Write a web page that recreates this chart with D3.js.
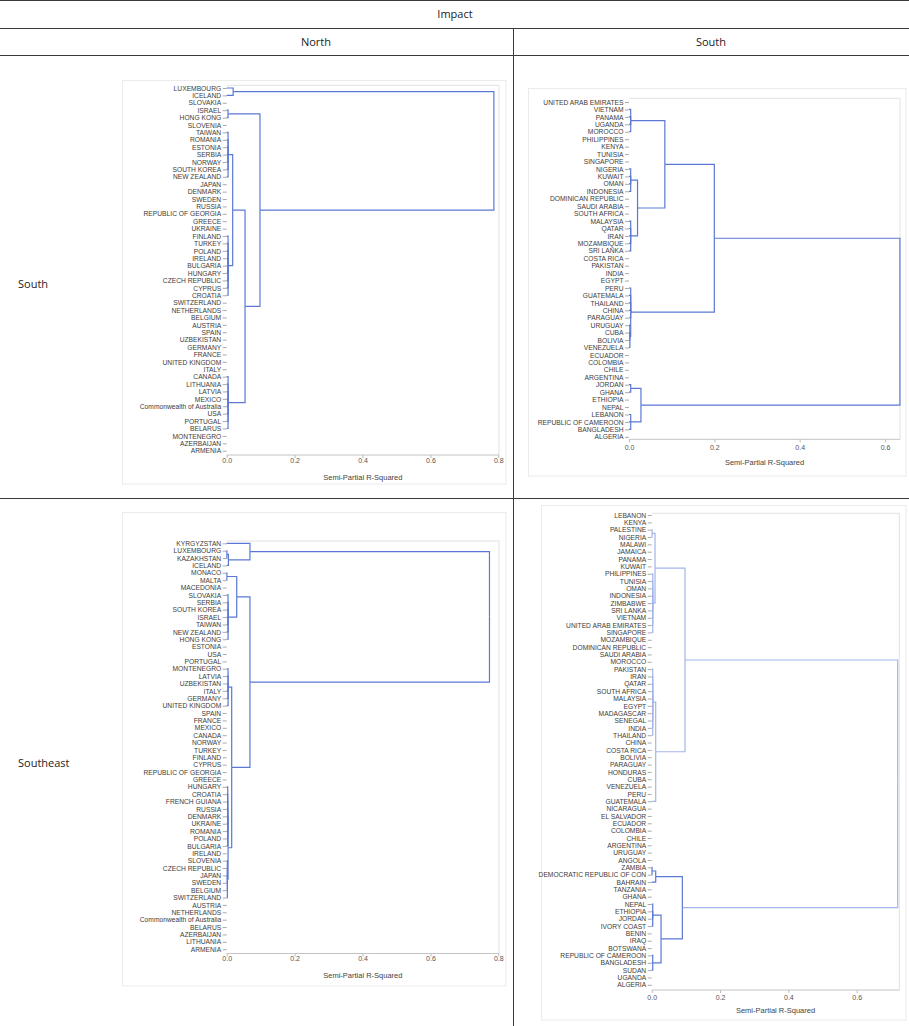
<!DOCTYPE html>
<html>
<head>
<meta charset="utf-8">
<script src="https://cdn.jsdelivr.net/npm/d3@7/dist/d3.min.js"></script>
<style>
  body { margin: 0; background: #fff; }
  svg { display: block; }
</style>
</head>
<body>
<svg id="chart" width="909" height="1026"></svg>
<script>
// ---------------- data ----------------
const TABLE_TITLE = "Impact";
const COL_HEADS = ["North", "South"];
const ROW_HEADS = ["South", "Southeast"];
const AXIS_TITLE = "Semi-Partial R-Squared";

const ticksNorth = [0, 0.2, 0.4, 0.6, 0.8];
const ticksSouth = [0, 0.2, 0.4, 0.6];

// North / South
const nsLeaves = ["LUXEMBOURG", "ICELAND", "SLOVAKIA", "ISRAEL", "HONG KONG", "SLOVENIA", "TAIWAN",
  "ROMANIA", "ESTONIA", "SERBIA", "NORWAY", "SOUTH KOREA", "NEW ZEALAND", "JAPAN", "DENMARK",
  "SWEDEN", "RUSSIA", "REPUBLIC OF GEORGIA", "GREECE", "UKRAINE", "FINLAND", "TURKEY", "POLAND",
  "IRELAND", "BULGARIA", "HUNGARY", "CZECH REPUBLIC", "CYPRUS", "CROATIA", "SWITZERLAND",
  "NETHERLANDS", "BELGIUM", "AUSTRIA", "SPAIN", "UZBEKISTAN", "GERMANY", "FRANCE",
  "UNITED KINGDOM", "ITALY", "CANADA", "LITHUANIA", "LATVIA", "MEXICO",
  "Commonwealth of Australia", "USA", "PORTUGAL", "BELARUS", "MONTENEGRO", "AZERBAIJAN", "ARMENIA"];
// node = {h, c:[children]} or {h, span:[firstLeaf, lastLeaf]}
const nsTree = {h: 0.787, c: [
  {h: 0.019, c: ["LUXEMBOURG", "ICELAND"]},
  {h: 0.098, c: [
    {h: 0.004, c: ["ISRAEL", "HONG KONG"]},
    {h: 0.054, c: [
      {h: 0.0176, c: [
        {h: 0.004, span: ["TAIWAN", "NEW ZEALAND"]},
        {h: 0.004, span: ["FINLAND", "CROATIA"]}
      ]},
      {h: 0.004, span: ["CANADA", "BELARUS"]}
    ]}
  ]}
]};

// South / South
const ssLeaves = ["UNITED ARAB EMIRATES", "VIETNAM", "PANAMA", "UGANDA", "MOROCCO", "PHILIPPINES",
  "KENYA", "TUNISIA", "SINGAPORE", "NIGERIA", "KUWAIT", "OMAN", "INDONESIA", "DOMINICAN REPUBLIC",
  "SAUDI ARABIA", "SOUTH AFRICA", "MALAYSIA", "QATAR", "IRAN", "MOZAMBIQUE", "SRI LANKA",
  "COSTA RICA", "PAKISTAN", "INDIA", "EGYPT", "PERU", "GUATEMALA", "THAILAND", "CHINA", "PARAGUAY",
  "URUGUAY", "CUBA", "BOLIVIA", "VENEZUELA", "ECUADOR", "COLOMBIA", "CHILE", "ARGENTINA", "JORDAN",
  "GHANA", "ETHIOPIA", "NEPAL", "LEBANON", "REPUBLIC OF CAMEROON", "BANGLADESH", "ALGERIA"];
const ssTree = {h: 0.635, c: [
  {h: 0.2, c: [
    {h: 0.084, c: [
      {h: 0.004, span: ["VIETNAM", "MOROCCO"]},
      {h: 0.020, c: [
        {h: 0.004, span: ["NIGERIA", "INDONESIA"]},
        {h: 0.004, span: ["MALAYSIA", "SRI LANKA"]}
      ]}
    ]},
    {h: 0.004, c: ["PERU", "GUATEMALA", "THAILAND", "CHINA", "PARAGUAY",
      {h: 0.002, span: ["URUGUAY", "VENEZUELA"]}]}
  ]},
  {h: 0.028, c: [
    {h: 0.004, c: ["JORDAN", "GHANA"]},
    {h: 0.004, span: ["LEBANON", "BANGLADESH"]}
  ]}
]};

// North / Southeast
const nseLeaves = ["KYRGYZSTAN", "LUXEMBOURG", "KAZAKHSTAN", "ICELAND", "MONACO", "MALTA",
  "MACEDONIA", "SLOVAKIA", "SERBIA", "SOUTH KOREA", "ISRAEL", "TAIWAN", "NEW ZEALAND", "HONG KONG",
  "ESTONIA", "USA", "PORTUGAL", "MONTENEGRO", "LATVIA", "UZBEKISTAN", "ITALY", "GERMANY",
  "UNITED KINGDOM", "SPAIN", "FRANCE", "MEXICO", "CANADA", "NORWAY", "TURKEY", "FINLAND", "CYPRUS",
  "REPUBLIC OF GEORGIA", "GREECE", "HUNGARY", "CROATIA", "FRENCH GUIANA", "RUSSIA", "DENMARK",
  "UKRAINE", "ROMANIA", "POLAND", "BULGARIA", "IRELAND", "SLOVENIA", "CZECH REPUBLIC", "JAPAN",
  "SWEDEN", "BELGIUM", "SWITZERLAND", "AUSTRIA", "NETHERLANDS", "Commonwealth of Australia",
  "BELARUS", "AZERBAIJAN", "LITHUANIA", "ARMENIA"];
const nseTree = {h: 0.774, c: [
  {h: 0.0685, c: ["KYRGYZSTAN",
    {h: 0.005, c: [{h: 0.0005, c: ["LUXEMBOURG", "KAZAKHSTAN"]}, "ICELAND"]}]},
  {h: 0.0685, c: [
    {h: 0.0295, c: [
      {h: 0.0005, c: ["MONACO", "MALTA"]},
      {h: 0.004, span: ["SLOVAKIA", "HONG KONG"]}
    ]},
    {h: 0.0147, c: [
      {h: 0.004, span: ["MONTENEGRO", "UNITED KINGDOM"]},
      {h: 0.004, c: [
        {h: 0.003, span: ["HUNGARY", "BULGARIA"]},
        {h: 0.002, span: ["SLOVENIA", "SWITZERLAND"]}
      ]}
    ]}
  ]}
]};

// South / Southeast
const sseLeaves = ["LEBANON", "KENYA", "PALESTINE", "NIGERIA", "MALAWI", "JAMAICA", "PANAMA",
  "KUWAIT", "PHILIPPINES", "TUNISIA", "OMAN", "INDONESIA", "ZIMBABWE", "SRI LANKA", "VIETNAM",
  "UNITED ARAB EMIRATES", "SINGAPORE", "MOZAMBIQUE", "DOMINICAN REPUBLIC", "SAUDI ARABIA", "MOROCCO",
  "PAKISTAN", "IRAN", "QATAR", "SOUTH AFRICA", "MALAYSIA", "EGYPT", "MADAGASCAR", "SENEGAL", "INDIA",
  "THAILAND", "CHINA", "COSTA RICA", "BOLIVIA", "PARAGUAY", "HONDURAS", "CUBA", "VENEZUELA", "PERU",
  "GUATEMALA", "NICARAGUA", "EL SALVADOR", "ECUADOR", "COLOMBIA", "CHILE", "ARGENTINA", "URUGUAY",
  "ANGOLA", "ZAMBIA", "DEMOCRATIC REPUBLIC OF CON", "BAHRAIN", "TANZANIA", "GHANA", "NEPAL",
  "ETHIOPIA", "JORDAN", "IVORY COAST", "BENIN", "IRAQ", "BOTSWANA", "REPUBLIC OF CAMEROON",
  "BANGLADESH", "SUDAN", "UGANDA", "ALGERIA"];
const sseTree = {h: 0.72, c: [
  {h: 0.0975, c: [
    {h: 0.0097, c: [
      {h: 0.001, c: ["PALESTINE", "NIGERIA"]},
      {h: 0.003, span: ["PHILIPPINES", "SINGAPORE"]}
    ]},
    {h: 0.0117, c: [{h: 0.003, span: ["PAKISTAN", "THAILAND"]}, "GUATEMALA"]}
  ]},
  {h: 0.0897, c: [
    {h: 0.0117, c: [{h: 0.001, c: ["ZAMBIA", "DEMOCRATIC REPUBLIC OF CON"]}, "BAHRAIN"]},
    {h: 0.0273, c: [
      {h: 0.003, span: ["NEPAL", "IVORY COAST"]},
      {h: 0.003, span: ["REPUBLIC OF CAMEROON", "SUDAN"]}
    ]}
  ]}
]};

// ---------------- layout ----------------
const LINE_BLUE = "#5b79d4";
const LIGHT_BLUE = "#a2b4ea";

const panels = [
  {leaves: nsLeaves, tree: nsTree, ticks: ticksNorth,
   frame: [122.5, 80.5, 506, 484], x0: 226.7, x1: 498.3, right: 499,
   top: 85.3, bottom: 455, first: 88, last: 450.7, tickY: 465.5, titleY: 480},
  {leaves: ssLeaves, tree: ssTree, ticks: ticksSouth,
   frame: [528.5, 88.5, 906, 476], x0: 629, x1: 885, right: 900,
   top: 98.3, bottom: 439.3, first: 102, last: 436.8, tickY: 452.5, titleY: 464.5},
  {leaves: nseLeaves, tree: nseTree, ticks: ticksNorth,
   frame: [122.5, 512.5, 506, 986], x0: 226.7, x1: 498.3, right: 499,
   top: 541, bottom: 953.5, first: 543.3, last: 949.2, tickY: 963.5, titleY: 978},
  {leaves: sseLeaves, tree: sseTree, ticks: ticksSouth, lightTop: true,
   frame: [541.5, 505.5, 906, 1020], x0: 651.7, x1: 856.7, right: 899.3,
   top: 513.3, bottom: 990, first: 515, last: 984.8, tickY: 1002.5, titleY: 1013}
];

const svg = d3.select("#chart");

// --------------- table grid ---------------
const grid = svg.append("g").attr("stroke", "#3a3a3a").attr("stroke-width", 1);
[0.5, 28.5, 55.5, 498.5].forEach(yy =>
  grid.append("line").attr("x1", 0).attr("x2", 909).attr("y1", yy).attr("y2", yy));
grid.append("line").attr("x1", 513.5).attr("x2", 513.5).attr("y1", 28.5).attr("y2", 1026);

const headFont = "'Open Sans', 'Liberation Sans', sans-serif";
svg.append("text").attr("x", 455).attr("y", 18).attr("text-anchor", "middle")
  .attr("font-family", headFont).attr("font-size", 11).attr("fill", "#222").text(TABLE_TITLE);
const colCenters = [316, 711];
COL_HEADS.forEach((t, i) =>
  svg.append("text").attr("x", colCenters[i]).attr("y", 46).attr("text-anchor", "middle")
    .attr("font-family", headFont).attr("font-size", 11).attr("fill", "#222").text(t));
const rowCenters = [284, 763];
ROW_HEADS.forEach((t, i) =>
  svg.append("text").attr("x", 18).attr("y", rowCenters[i] + 4)
    .attr("font-family", headFont).attr("font-size", 11).attr("fill", "#222").text(t));

// --------------- dendrograms ---------------
function expand(node, leaves) {
  if (typeof node === "string") return {name: node, h: 0};
  let kids = node.c;
  if (node.span) {
    const i0 = leaves.indexOf(node.span[0]);
    const i1 = leaves.indexOf(node.span[1]);
    kids = leaves.slice(i0, i1 + 1);
  }
  return {h: node.h, children: kids.map(k => expand(k, leaves))};
}

function drawPanel(p) {
  const g = svg.append("g");
  const font = "'Liberation Sans', Arial, sans-serif";

  // graph border
  g.append("rect")
    .attr("x", p.frame[0]).attr("y", p.frame[1])
    .attr("width", p.frame[2] - p.frame[0]).attr("height", p.frame[3] - p.frame[1])
    .attr("fill", "none").attr("stroke", "#ebebeb");

  const x = d3.scaleLinear().domain([0, p.ticks[p.ticks.length - 1]]).range([p.x0, p.x1]);
  const y = d3.scalePoint().domain(p.leaves).range([p.first, p.last]);

  // plot wall
  g.append("path")
    .attr("d", `M${p.x0},${p.top}H${p.right}V${p.bottom}`)
    .attr("fill", "none").attr("stroke", "#e2e2e2");

  // x axis
  const ax = g.append("g").attr("transform", `translate(0,${p.bottom})`)
    .call(d3.axisBottom(x).tickValues(p.ticks).tickFormat(d3.format(".1f")).tickSize(3).tickSizeOuter(0));
  ax.select(".domain").remove();
  ax.append("line").attr("x1", p.x0).attr("x2", p.right).attr("stroke", "#c4c4c4");
  ax.selectAll(".tick line").attr("stroke", "#bbb");
  ax.selectAll(".tick text").attr("y", p.tickY - p.bottom - 2.5).attr("dy", 0)
    .attr("font-family", font).attr("font-size", 7).attr("fill", "#555");
  g.append("text").attr("x", (p.x0 + p.right) / 2).attr("y", p.titleY)
    .attr("text-anchor", "middle").attr("font-family", font).attr("font-size", 7.5)
    .attr("fill", "#444").text(AXIS_TITLE);

  // leaf axis
  const ay = g.append("g").attr("transform", `translate(${p.x0},0)`)
    .call(d3.axisLeft(y).tickSize(4).tickPadding(1.5));
  ay.select(".domain").remove();
  ay.selectAll(".tick line").attr("stroke", "#aaa");
  ay.selectAll(".tick text").attr("font-family", font).attr("font-size", 6.7).attr("fill", "#3c3c3c");

  // tree
  const root = d3.hierarchy(expand(p.tree, p.leaves));
  root.eachAfter(n => {
    if (!n.children) n.y = y(n.data.name);
    else n.y = (n.children[0].y + n.children[n.children.length - 1].y) / 2;
  });

  const colorOf = n => {
    if (!p.lightTop) return LINE_BLUE;
    let a = n;
    while (a.depth > 1) a = a.parent;
    return (a.depth === 0 || a === root.children[0]) ? LIGHT_BLUE : LINE_BLUE;
  };

  const links = root.descendants().filter(n => n.parent);
  g.append("g").attr("fill", "none").attr("stroke-width", 1.2)
    .selectAll("path")
    .data(links)
    .join("path")
    .attr("stroke", d => colorOf(d.parent))
    .attr("d", d => `M${x(d.data.h)},${d.y}H${x(d.parent.data.h)}V${d.parent.y}`);
}

panels.forEach(drawPanel);
</script>
</body>
</html>
